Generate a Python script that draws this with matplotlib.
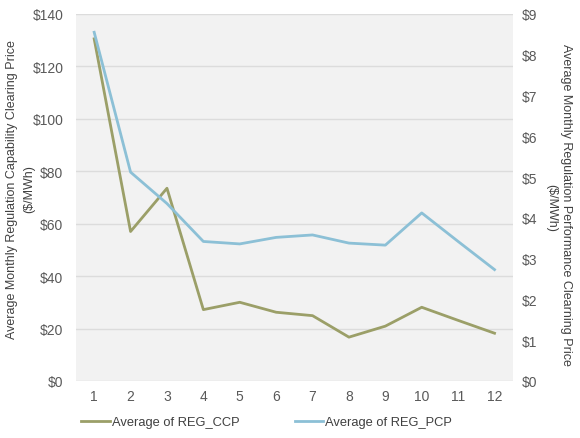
import matplotlib
matplotlib.use("Agg")
import matplotlib.pyplot as plt
from matplotlib.ticker import FuncFormatter

plt.rcParams['font.family'] = ['Liberation Sans', 'DejaVu Sans']

months = [1, 2, 3, 4, 5, 6, 7, 8, 9, 10, 11, 12]
reg_ccp = [130.5, 57, 73.5, 27.2, 30, 26.2, 24.9, 16.7, 20.9, 28.1, 23.1, 18.2]
reg_pcp = [8.55, 5.12, 4.35, 3.42, 3.36, 3.52, 3.58, 3.38, 3.33, 4.12, 3.42, 2.73]
left_ticks = [0, 20, 40, 60, 80, 100, 120, 140]
right_ticks = [0, 1, 2, 3, 4, 5, 6, 7, 8, 9]
left_label = 'Average Monthly Regulation Capability Clearing Price'
right_label = 'Average Monthly Regulation Performance Clearning Price'
unit_label = '($/MWh)'

green = '#9b9f68'
blue = '#8cc0d6'
tickc = '#595959'
labc = '#404040'

W, H = 580, 439
fig = plt.figure(figsize=(5.8, 4.39), dpi=100)
ax = fig.add_axes([0.131, 0.130, 0.753, 0.836])
ax.set_facecolor('#f2f2f2')
ax2 = ax.twinx()

l1, = ax.plot(months, reg_ccp, color=green, lw=2, label='Average of REG_CCP')
l2, = ax2.plot(months, reg_pcp, color=blue, lw=2, label='Average of REG_PCP')

ax.set_xlim(0.5, 12.5)
ax.set_ylim(0, 140)
ax2.set_ylim(0, 9)
ax.set_xticks(months)
ax.set_yticks(left_ticks)
ax2.set_yticks(right_ticks)
ax.yaxis.set_major_formatter(FuncFormatter(lambda v, p: f'${int(v)}'))
ax2.yaxis.set_major_formatter(FuncFormatter(lambda v, p: f'${int(v)}'))
ax.grid(axis='y', color='#dcdcdc', lw=1)
ax.set_axisbelow(True)

for a in (ax, ax2):
    for s in a.spines.values():
        s.set_visible(False)
    a.tick_params(length=0, labelsize=10, colors=tickc)
ax.tick_params(axis='y', pad=9)
ax.tick_params(axis='x', pad=6)
ax2.tick_params(axis='y', pad=6.5)

fs = 9.0
fig.text(12 / W, 1 - 190 / H, left_label, rotation=90, ha='center', va='center',
         fontsize=fs, color=labc)
fig.text(29 / W, 1 - 189 / H, unit_label, rotation=90, ha='center', va='center',
         fontsize=fs, color=labc)
fig.text(566 / W, 1 - 205 / H, right_label, rotation=-90, ha='center', va='center',
         fontsize=fs, color=labc)
fig.text(551 / W, 1 - 208 / H, unit_label, rotation=-90, ha='center', va='center',
         fontsize=fs, color=labc)

fig.legend(handles=[l1, l2], loc='center', bbox_to_anchor=(0.46, 0.036), ncol=2,
           frameon=False, fontsize=9.3, handlelength=2.2, handletextpad=0.15,
           columnspacing=4.3, labelcolor=labc)

fig.savefig('out.png', dpi=100, facecolor='white')
